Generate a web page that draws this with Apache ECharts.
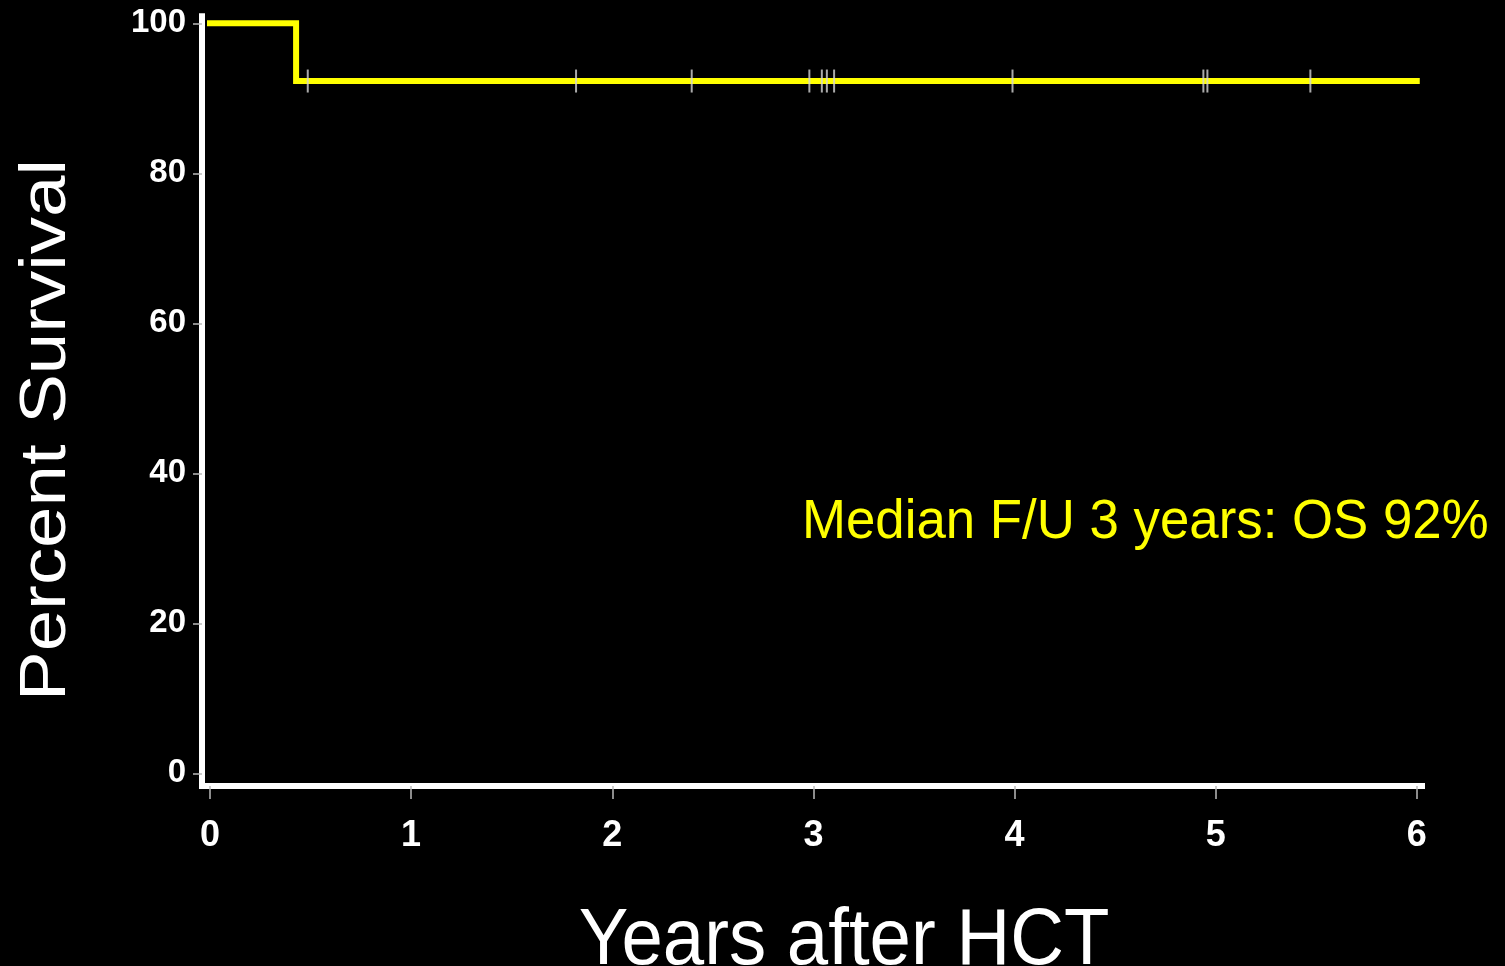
<!DOCTYPE html>
<html>
<head>
<meta charset="utf-8">
<script src="https://cdn.jsdelivr.net/npm/echarts@6/dist/echarts.min.js"></script>
<style>
html,body{margin:0;padding:0;background:#000;}
#chart{width:1505px;height:966px;}
</style>
</head>
<body>
<div id="chart"></div>
<script>
// Kaplan-Meier curve: [years, percent survival]
const survivalCurve = [[0, 100], [0.428, 100], [0.428, 92.3], [6.0, 92.3]];
// Censored observations (years)
const censorTimes = [0.486, 1.82, 2.395, 2.98, 3.042, 3.067, 3.103, 3.99, 4.939, 4.959, 5.471];
const censorLevel = 92.3;
const xTicks = [0, 1, 2, 3, 4, 5, 6];
const yTicks = [0, 20, 40, 60, 80, 100];
const xTitle = 'Years after HCT';
const yTitle = 'Percent Survival';
const note = 'Median F/U 3 years: OS 92%';

const FONT = "'Liberation Sans', Arial, Helvetica, sans-serif";
const chart = echarts.init(document.getElementById('chart'));
chart.setOption({
  backgroundColor: '#000',
  animation: false,
  grid: {left: 202, right: 83, top: 16.3, bottom: 180, containLabel: false},
  xAxis: {
    type: 'value', min: -0.0398, max: 6.026,
    axisLine: {show: true, onZero: false, lineStyle: {color: '#fff', width: 6, cap: 'square'}},
    axisTick: {show: true, customValues: xTicks, length: 13, lineStyle: {color: '#bbb', width: 1.5}},
    axisLabel: {show: true, customValues: xTicks, margin: 32.5, color: '#fff', fontSize: 36, fontWeight: 'bold', fontFamily: FONT},
    splitLine: {show: false}
  },
  yAxis: {
    type: 'value', min: -1.69, max: 100.93,
    axisLine: {show: true, onZero: false, lineStyle: {color: '#fff', width: 6, cap: 'square'}},
    axisTick: {show: true, customValues: yTicks, length: 9, lineStyle: {color: '#bbb', width: 1.5}},
    axisLabel: {show: true, customValues: yTicks, margin: 16, color: '#fff', fontSize: 33, fontWeight: 'bold', fontFamily: FONT},
    splitLine: {show: false}
  },
  series: [
    {
      type: 'line', data: survivalCurve, showSymbol: false, symbol: 'none',
      lineStyle: {color: '#ffff00', width: 6, cap: 'square', join: 'miter'},
      z: 2
    },
    {
      type: 'scatter', data: censorTimes.map(t => [t, censorLevel]),
      symbol: 'rect', symbolSize: [2, 23],
      itemStyle: {color: '#d4d4d4'}, z: 3
    }
  ],
  graphic: [
    {type: 'text', x: 47, y: 430, rotation: Math.PI / 2, scaleX: 1.145,
     style: {text: yTitle, fill: '#fff', font: '65px ' + FONT, align: 'center', verticalAlign: 'middle'}},
    {type: 'text', x: 844, y: 941.5, scaleX: 0.93,
     style: {text: xTitle, fill: '#fff', font: '80px ' + FONT, align: 'center', verticalAlign: 'middle'}},
    {type: 'text', x: 802, y: 523, scaleX: 0.96,
     style: {text: note, fill: '#ffff00', font: '55px ' + FONT, align: 'left', verticalAlign: 'middle'}}
  ]
});
</script>
</body>
</html>
